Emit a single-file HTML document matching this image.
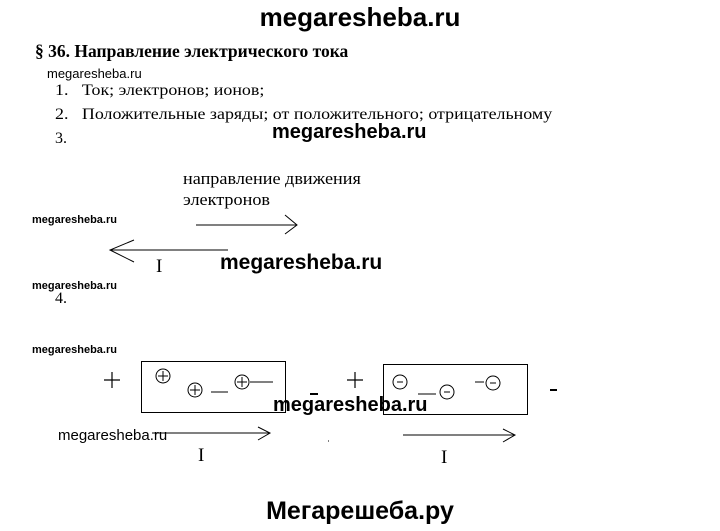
<!DOCTYPE html>
<html><head><meta charset="utf-8"><style>
body{margin:0;width:720px;height:531px;background:#fff;position:relative;overflow:hidden;font-family:"Liberation Serif",serif;color:#000}
.a{position:absolute;white-space:nowrap;line-height:1}
.wm{font-family:"Liberation Sans",sans-serif;font-weight:bold}
.s{transform-origin:0 0;transform:scaleX(1.12)}
</style></head><body>
<div class="a wm" style="left:0;width:720px;text-align:center;top:4px;font-size:26px">megaresheba.ru</div>
<div class="a" style="left:35px;top:43px;font-size:17.5px;font-weight:bold">§ 36. Направление электрического тока</div>
<div class="a" style="left:47px;top:67px;font-size:13px;font-family:'Liberation Sans',sans-serif">megaresheba.ru</div>
<div class="a s" style="left:55px;top:83px;font-size:16px">1.&nbsp;&nbsp;&nbsp;Ток; электронов; ионов;</div>
<div class="a s" style="left:55px;top:107px;font-size:16px">2.&nbsp;&nbsp;&nbsp;Положительные заряды; от положительного; отрицательному</div>
<div class="a" style="left:55px;top:131px;font-size:16px">3.</div>
<div class="a wm" style="left:272px;top:122px;font-size:20px">megaresheba.ru</div>
<div class="a" style="left:183px;top:170px;font-size:17px;transform-origin:0 0;transform:scaleX(1.07)">направление движения</div>
<div class="a" style="left:183px;top:191px;font-size:17px;transform-origin:0 0;transform:scaleX(1.07)">электронов</div>
<div class="a wm" style="left:32px;top:215px;font-size:11px">megaresheba.ru</div>
<div class="a wm" style="left:220px;top:252px;font-size:21px">megaresheba.ru</div>
<div class="a" style="left:156px;top:257px;font-size:19px">I</div>
<div class="a wm" style="left:32px;top:281px;font-size:11px">megaresheba.ru</div>
<div class="a" style="left:55px;top:291px;font-size:16px">4.</div>
<div class="a wm" style="left:32px;top:345px;font-size:11px">megaresheba.ru</div>
<div class="a" style="left:58px;top:428px;font-size:15px;font-family:'Liberation Sans',sans-serif">megaresheba.ru</div>
<div class="a" style="left:198px;top:446px;font-size:19px">I</div>
<div class="a" style="left:441px;top:448px;font-size:19px">I</div>
<svg width="720" height="531" style="position:absolute;left:0;top:0" fill="none" stroke="#000" stroke-width="1">
<path d="M196 225H297M285 215L297 225L285 234"/>
<path d="M110 250H228M134 240L110 250L134 262"/>
<rect x="141.5" y="361.5" width="144" height="51"/>
<rect x="383.5" y="364.5" width="144" height="50"/>
<path d="M104 380H120M112 372V388M347 380H363M355 372V388" stroke-width="1.2"/>
<path d="M310 394H318M550 390H557" stroke-width="2"/>
<circle cx="163" cy="376" r="7"/><path d="M158 376H168M163 371V381"/>
<circle cx="195" cy="390" r="7"/><path d="M190 390H200M195 385V395"/>
<circle cx="242" cy="382" r="7"/><path d="M237 382H247M242 377V387"/>
<path d="M211 392H228M250 382H273"/>
<circle cx="400" cy="382" r="7"/><path d="M397 382H403"/>
<circle cx="447" cy="392" r="7"/><path d="M444 392H450"/>
<circle cx="493" cy="383" r="7"/><path d="M490 383H496"/>
<path d="M418 394H436M475 382H484"/>
<path d="M152 433H270M258 427L270 433L258 440"/>
<path d="M403 435H515M503 429L515 435L503 442"/>
<path d="M328 441h1"/>
</svg>
<div class="a wm" style="left:273px;top:395px;font-size:20px">megaresheba.ru</div>
<div class="a wm" style="left:0;width:720px;text-align:center;top:499px;font-size:25px">Мегарешеба.ру</div>
</body></html>
